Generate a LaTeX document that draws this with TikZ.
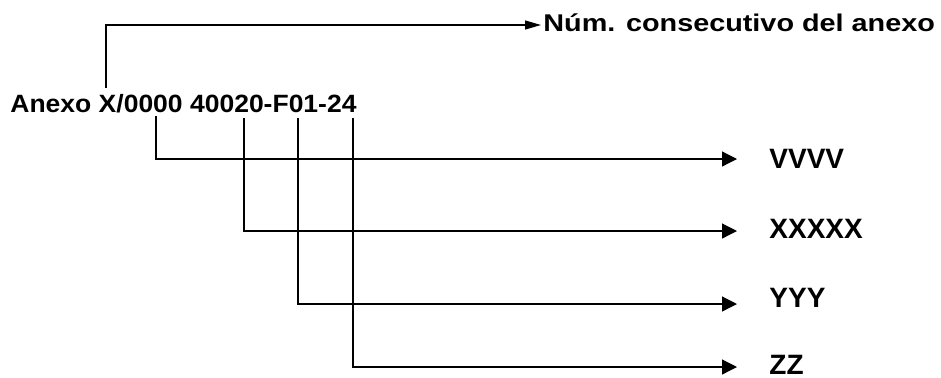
\documentclass[tikz,border=0pt]{standalone}
\usepackage{fontspec}
\setmainfont{Liberation Sans}
\usetikzlibrary{arrows.meta}

\begin{document}
\begin{tikzpicture}[x=0.5pt, y=-0.5pt,
  conn/.style={line width=0.6pt, -{Triangle[length=7.5pt,width=7.5pt]}},
  topconn/.style={line width=0.6pt, -{Triangle[length=8pt,width=4.5pt]}},
  codetxt/.style={inner sep=0pt, anchor=base west, font=\fontsize{12.5}{15}\selectfont\bfseries},
  fieldtxt/.style={inner sep=0pt, anchor=base west, font=\fontsize{14}{17}\selectfont\bfseries}]

\useasboundingbox (0,0) rectangle (941,377);

% code and labels
\node[codetxt] (code) at (10,112.5) {\scalebox{1.06}[1]{Anexo X/0000 40020-F01-24}};
\node[codetxt, font=\fontsize{12.1}{15}\selectfont\bfseries] (consec) at (543,31.5) {\scalebox{1.19}[1]{Núm. consecutivo del anexo}};
\node[fieldtxt] (lblV) at (769,168) {VVVV};
\node[fieldtxt] (lblX) at (769,238.5) {XXXXX};
\node[fieldtxt] (lblY) at (769,307) {YYY};
\node[fieldtxt] (lblZ) at (769,374) {ZZ};

% ends of the lines
\coordinate (ancN) at (106,88);
\coordinate (ancV) at (156,116);
\coordinate (ancX) at (244,118);
\coordinate (ancY) at (298,118);
\coordinate (ancZ) at (353,118);
\coordinate (tipN) at (541,25);
\coordinate (tipV) at (737,159);
\coordinate (tipX) at (737,231);
\coordinate (tipY) at (737,304);
\coordinate (tipZ) at (737,367);

\draw[topconn] (ancN) |- (tipN);
\draw[conn] (ancV) |- (tipV);
\draw[conn] (ancX) |- (tipX);
\draw[conn] (ancY) |- (tipY);
\draw[conn] (ancZ) |- (tipZ);

\end{tikzpicture}
\end{document}
